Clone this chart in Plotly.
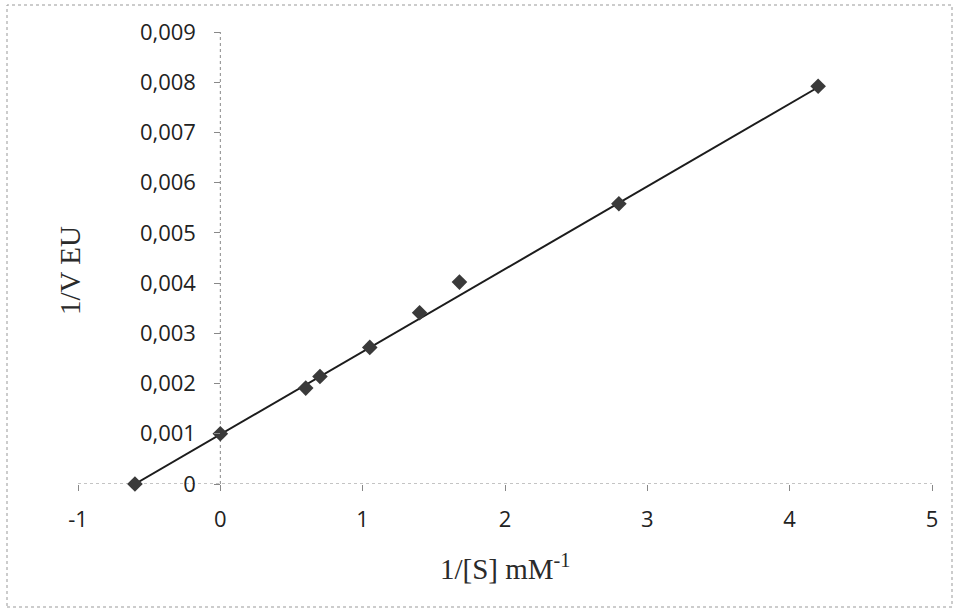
import plotly.graph_objects as go

# Data
inv_s = [-0.6, 0.0, 0.6, 0.7, 1.05, 1.4, 1.68, 2.8, 4.2]
inv_v = [0.0, 0.001, 0.00191, 0.00214, 0.00272, 0.00341, 0.00402, 0.00558, 0.00792]
fit_x = [-0.6, 4.2]
fit_y = [0.0, 0.0079]

x_tickvals = [-1, 0, 1, 2, 3, 4, 5]
x_ticktext = ["-1", "0", "1", "2", "3", "4", "5"]
y_tickvals = [0, 0.001, 0.002, 0.003, 0.004, 0.005, 0.006, 0.007, 0.008, 0.009]
y_ticktext = ["0", "0,001", "0,002", "0,003", "0,004", "0,005", "0,006", "0,007", "0,008", "0,009"]

x_range = [-1, 5]
y_range = [0, 0.009]

fig = go.Figure()
fig.add_trace(go.Scatter(x=fit_x, y=fit_y, mode="lines",
                         line=dict(color="#1c1c1c", width=2), showlegend=False,
                         cliponaxis=False))
fig.add_trace(go.Scatter(x=inv_s, y=inv_v, mode="markers",
                         marker=dict(symbol="diamond", size=12, color="#3a3a3a"),
                         showlegend=False, cliponaxis=False))

tick_font = dict(family="Open Sans", size=22, color="#222")
serif = dict(family="Liberation Serif", size=29, color="#2a2a2a")

y_pos = (0 - x_range[0]) / (x_range[1] - x_range[0])

fig.update_layout(
    width=957, height=611,
    margin=dict(l=78, r=25, t=32, b=127),
    paper_bgcolor="white", plot_bgcolor="white",
    xaxis=dict(range=x_range, tickvals=x_tickvals, ticktext=x_ticktext,
               ticks="outside", ticklen=6, tickcolor="#888", showline=False,
               showgrid=False, zeroline=False, tickfont=tick_font,
               ticklabelstandoff=10),
    yaxis=dict(range=y_range, tickvals=y_tickvals, ticktext=y_ticktext,
               anchor="free", position=y_pos,
               ticks="outside", ticklen=6, tickcolor="#888", showline=False,
               showgrid=False, zeroline=False, tickfont=tick_font,
               ticklabelstandoff=14),
    shapes=[
        dict(type="line", xref="x", yref="y", x0=x_range[0], x1=x_range[1], y0=0, y1=0,
             line=dict(color="#888", width=1, dash="dot"), layer="below"),
        dict(type="line", xref="x", yref="y", x0=0, x1=0, y0=y_range[0], y1=y_range[1],
             line=dict(color="#888", width=1, dash="dot"), layer="below"),
        dict(type="rect", xref="paper", yref="paper",
             x0=(7 - 78) / 854, x1=(952 - 78) / 854,
             y0=(484 - 607) / 452, y1=(484 - 5) / 452,
             line=dict(color="#999", width=1, dash="dot")),
    ],
    annotations=[
        dict(text="1/[S] mM<sup>-1</sup>", xref="paper", yref="paper",
             x=0.5, y=(484 - 567) / 452, showarrow=False, font=serif,
             xanchor="center", yanchor="middle"),
        dict(text="1/V EU", xref="paper", yref="paper",
             x=(70 - 78) / 854, y=(484 - 271) / 452, showarrow=False, font=serif,
             textangle=-90, xanchor="center", yanchor="middle"),
    ],
)

fig.write_html("out.html")
